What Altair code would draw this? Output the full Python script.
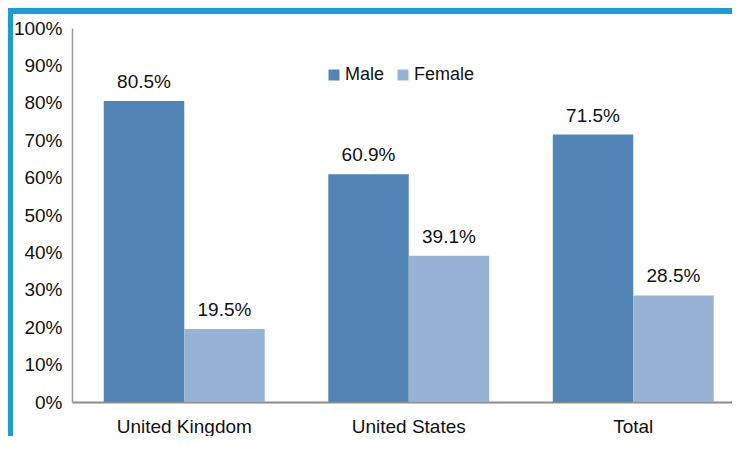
import altair as alt
import pandas as pd

categories = ["United Kingdom", "United States", "Total"]
genders = ["Male", "Female"]
male = [80.5, 60.9, 71.5]
female = [19.5, 39.1, 28.5]
y_ticks = [0, 10, 20, 30, 40, 50, 60, 70, 80, 90, 100]

rows = []
for c, m, f in zip(categories, male, female):
    rows.append({"category": c, "gender": "Male", "value": m})
    rows.append({"category": c, "gender": "Female", "value": f})
df = pd.DataFrame(rows)

FONT = "Liberation Sans"
TXT = "#111111"
AXIS_GRAY = "#8c8c8c"

x = alt.X(
    "category:N",
    sort=categories,
    scale=alt.Scale(paddingInner=0.283, paddingOuter=0.1415, range=[0, 673.5]),
    axis=alt.Axis(title=None, labelAngle=0, ticks=False, domainColor=AXIS_GRAY,
                  domainWidth=2, labelFontSize=19, labelPadding=15, labelColor=TXT),
)
xo = alt.XOffset("gender:N", sort=genders, scale=alt.Scale(paddingInner=0, paddingOuter=0))
y = alt.Y(
    "value:Q",
    scale=alt.Scale(domain=[0, 100], nice=False),
    axis=alt.Axis(title=None, values=y_ticks, labelExpr="datum.value + '%'", ticks=False,
                  grid=False, domain=True, domainColor="#999999", domainWidth=1.5,
                  labelFontSize=19, labelPadding=10, labelColor=TXT, labelOverlap=False,
                  tickCount=11, zindex=1),
)
color = alt.Color(
    "gender:N",
    sort=genders,
    scale=alt.Scale(domain=genders, range=["#5285b6", "#97b2d4"]),
    legend=alt.Legend(title=None, orient="none", legendX=253, legendY=38,
                      direction="horizontal", symbolType="square", symbolSize=121,
                      symbolStrokeWidth=0, labelFontSize=18, labelOffset=2,
                      columnPadding=9, padding=0, labelColor=TXT),
)

base = alt.Chart(df).encode(x=x, xOffset=xo, y=y)
bars = base.mark_bar().encode(color=color)
labels = base.mark_text(baseline="alphabetic", dy=-13, fontSize=19, font=FONT, color=TXT).transform_calculate(
    label="format(datum.value, '.1f') + '%'"
).encode(text="label:N")

band_df = pd.DataFrame({"k": [0]})
top_band = alt.Chart(band_df).mark_rect(color="#1f9bd1").encode(
    x=alt.value(-64), x2=alt.value(660), y=alt.value(-20), y2=alt.value(-14)
)
left_band = alt.Chart(band_df).mark_rect(color="#1f9bd1").encode(
    x=alt.value(-64), x2=alt.value(-59), y=alt.value(-20), y2=alt.value(408)
)

chart = alt.layer(bars, labels, top_band, left_band).properties(
    width=660,
    height=374,
    padding={"left": 64, "top": 20, "right": 0, "bottom": 34},
    autosize="none",
    background="white",
).configure(font=FONT).configure_view(strokeWidth=0)

chart.save("out.html", embed_options={"renderer": "svg", "actions": False})
